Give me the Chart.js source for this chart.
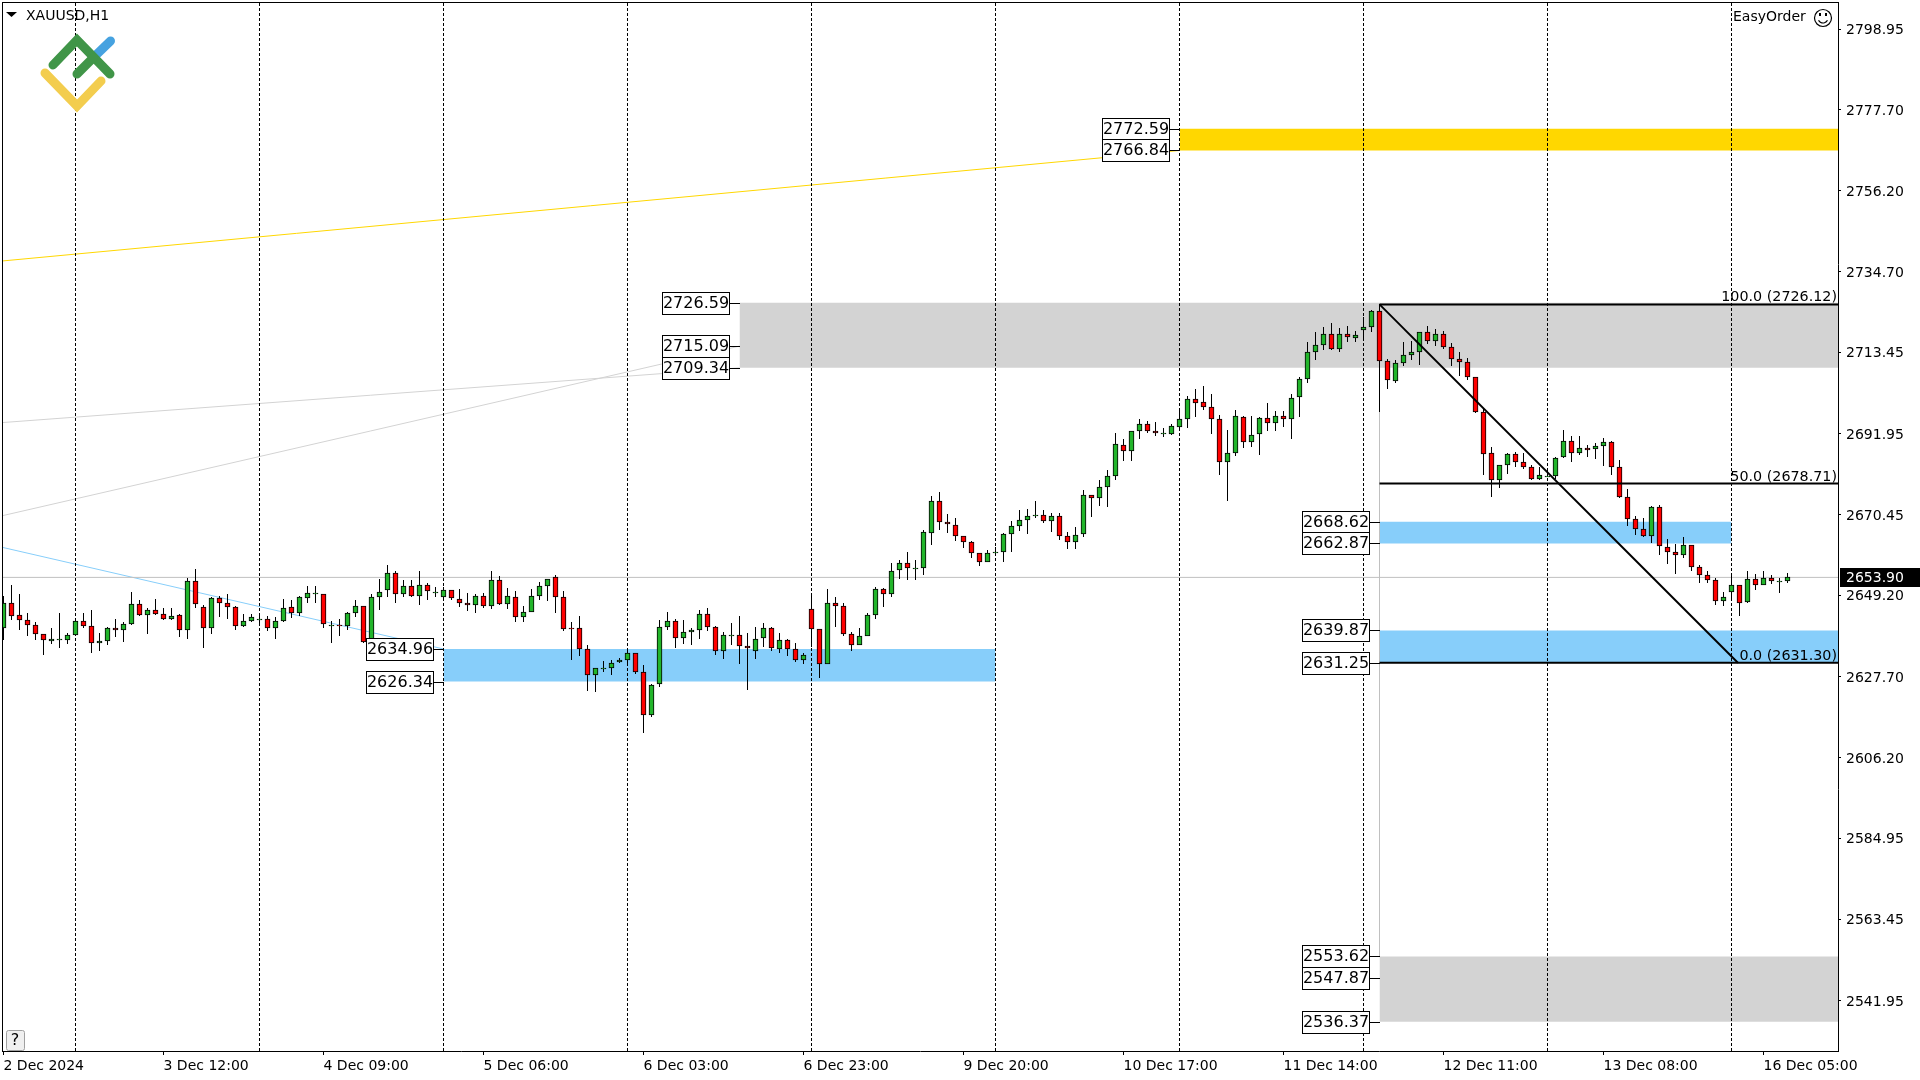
<!DOCTYPE html>
<html>
<head>
<meta charset="utf-8">
<title>XAUUSD,H1</title>
<script src="https://cdn.jsdelivr.net/npm/chart.js@4/dist/chart.umd.min.js"></script>
<style>
  html, body { margin: 0; padding: 0; background: #fff; }
  canvas { display: block; }
</style>
</head>
<body>
<canvas id="chart" width="1920" height="1080"></canvas>
<script>
// hourly candles
const opens = [2640.5,2647.1,2644.0,2642.6,2641.3,2638.9,2637.0,2637.6,2637.4,2638.6,2642.4,2641.1,2636.5,2637.0,2640.5,2640.0,2641.5,2646.9,2644.0,2645.3,
  2644.2,2642.9,2644.0,2640.0,2653.0,2646.1,2640.5,2648.5,2647.1,2646.1,2641.1,2642.4,2642.9,2642.9,2640.5,2642.4,2646.1,2644.5,2648.5,2649.7,
  2649.5,2641.3,2641.3,2641.1,2644.5,2646.4,2636.7,2648.7,2650.6,2655.1,2649.5,2651.6,2649.0,2651.9,2650.1,2648.6,2650.6,2648.2,2647.1,2646.5,
  2649.0,2646.4,2653.2,2646.8,2648.7,2643.4,2644.8,2649.0,2651.6,2654.0,2648.7,2640.5,2640.5,2635.0,2628.1,2630.0,2630.0,2631.5,2632.1,2633.9,
  2628.9,2617.5,2625.7,2640.8,2642.4,2637.9,2639.5,2640.0,2644.2,2640.8,2634.4,2638.7,2638.7,2635.8,2634.4,2637.9,2640.5,2635.0,2637.4,2635.0,
  2632.1,2645.6,2640.3,2631.0,2647.1,2646.4,2638.9,2636.0,2638.4,2644.0,2650.9,2649.5,2655.9,2657.7,2656.4,2656.4,2665.7,2674.1,2668.6,2667.8,
  2664.9,2663.3,2660.4,2658.0,2660.7,2660.6,2665.4,2667.5,2669.1,2670.3,2670.4,2668.8,2670.2,2664.9,2663.3,2665.4,2675.7,2674.9,2677.8,2680.7,
  2689.0,2687.4,2692.6,2694.5,2692.6,2692.0,2691.8,2693.7,2695.8,2701.1,2700.3,2699.0,2695.8,2684.4,2686.8,2696.4,2689.7,2691.8,2696.1,2694.8,
  2696.6,2695.8,2701.6,2706.4,2713.5,2715.4,2718.3,2714.3,2718.3,2717.2,2719.3,2720.2,2724.4,2711.2,2705.9,2710.6,2712.8,2713.6,2718.9,2716.5,
  2718.3,2714.9,2711.7,2710.9,2706.9,2697.7,2686.8,2679.7,2683.7,2686.6,2684.5,2683.1,2680.0,2680.7,2680.7,2685.8,2690.0,2686.8,2688.2,2687.9,
  2688.7,2689.8,2683.1,2675.2,2669.4,2666.7,2664.9,2672.6,2662.0,2660.6,2659.9,2662.5,2656.7,2654.6,2653.2,2647.7,2650.1,2651.9,2647.4,2653.5,
  2651.9,2653.8,2653.0,2653.0];
const highs = [2649.1,2652.0,2649.6,2644.5,2642.1,2638.9,2640.4,2644.5,2639.2,2642.4,2644.5,2645.4,2639.2,2640.8,2643.0,2642.2,2650.1,2648.0,2645.7,2648.3,
  2645.9,2645.9,2644.2,2653.8,2656.0,2646.6,2648.7,2649.0,2649.4,2646.3,2644.2,2644.3,2644.2,2643.7,2643.4,2648.3,2648.0,2649.1,2651.5,2651.7,
  2649.5,2642.3,2643.0,2644.8,2648.0,2646.4,2649.4,2653.5,2657.2,2655.6,2653.2,2653.2,2655.7,2652.3,2651.4,2651.3,2650.6,2650.9,2649.8,2649.5,
  2649.8,2655.7,2654.4,2651.1,2650.4,2646.4,2650.7,2652.8,2653.5,2654.6,2650.4,2642.2,2643.7,2636.0,2630.0,2631.9,2632.1,2632.6,2634.8,2633.9,
  2630.8,2625.7,2642.7,2644.8,2642.9,2642.5,2640.4,2645.4,2645.9,2641.1,2639.5,2641.9,2643.7,2639.3,2640.9,2641.9,2640.8,2639.3,2637.6,2636.6,
  2634.0,2649.0,2640.3,2650.9,2648.8,2647.0,2639.5,2640.5,2644.5,2651.4,2651.1,2657.6,2658.5,2660.6,2658.5,2666.5,2675.5,2676.5,2670.8,2669.7,
  2664.9,2663.6,2660.4,2661.2,2662.0,2665.7,2668.8,2671.8,2672.1,2674.2,2671.8,2671.0,2671.0,2665.9,2667.3,2677.1,2675.7,2679.7,2682.4,2692.1,
  2690.6,2692.6,2695.9,2695.4,2694.9,2693.3,2694.5,2698.5,2701.9,2703.8,2704.6,2702.3,2696.9,2693.0,2698.3,2696.6,2696.6,2696.4,2700.1,2698.0,
  2697.8,2702.4,2707.0,2716.2,2718.7,2720.2,2721.3,2719.9,2720.5,2719.1,2722.8,2724.7,2726.1,2711.7,2711.4,2716.3,2716.5,2718.9,2720.5,2719.6,
  2719.1,2715.9,2713.6,2712.0,2706.9,2698.7,2688.4,2683.7,2686.8,2687.1,2686.8,2683.7,2683.1,2682.3,2685.8,2692.9,2691.3,2691.3,2689.0,2689.5,
  2690.8,2690.1,2685.0,2677.3,2670.2,2669.6,2672.8,2673.1,2664.1,2662.8,2664.6,2662.5,2657.2,2655.6,2653.8,2650.1,2654.3,2651.9,2655.6,2654.8,
  2655.6,2654.6,2653.8,2655.1];
const lows = [2637.3,2642.6,2640.1,2638.5,2637.4,2633.5,2636.4,2635.3,2636.4,2638.5,2640.4,2634.0,2634.3,2636.1,2638.2,2636.9,2641.2,2643.8,2639.0,2644.0,
  2642.6,2642.7,2638.2,2637.7,2645.7,2635.1,2638.8,2643.5,2643.0,2640.0,2640.8,2642.1,2641.4,2639.6,2637.7,2642.0,2643.1,2643.8,2647.2,2647.2,
  2640.4,2636.6,2638.5,2640.0,2643.3,2636.5,2632.7,2645.2,2648.8,2647.0,2648.6,2648.8,2646.7,2648.0,2648.8,2648.0,2647.9,2646.2,2645.1,2644.6,
  2645.7,2645.5,2646.5,2645.5,2642.0,2642.0,2644.7,2648.0,2647.6,2644.4,2639.7,2632.0,2633.0,2623.8,2623.5,2628.8,2628.0,2631.2,2631.3,2628.3,
  2612.7,2616.9,2624.8,2640.1,2635.3,2636.4,2636.1,2637.7,2639.8,2633.5,2632.4,2635.9,2631.1,2624.0,2632.4,2635.5,2634.3,2634.0,2633.0,2631.4,
  2631.1,2635.6,2627.4,2631.0,2640.9,2638.4,2634.5,2635.9,2638.3,2643.0,2646.2,2648.8,2653.6,2653.3,2653.3,2654.6,2662.6,2666.5,2665.7,2663.6,
  2661.8,2658.9,2656.8,2657.9,2659.5,2657.9,2660.5,2666.1,2665.5,2669.5,2668.2,2665.8,2663.7,2661.3,2661.5,2664.5,2669.8,2672.7,2672.5,2679.6,
  2684.6,2684.6,2690.4,2692.0,2691.2,2691.0,2691.7,2692.6,2693.4,2696.4,2698.1,2691.9,2681.1,2674.2,2686.0,2688.2,2688.5,2686.4,2692.6,2692.7,
  2693.8,2690.6,2696.4,2705.4,2711.5,2714.0,2714.0,2713.5,2716.1,2716.1,2716.6,2718.9,2697.6,2703.7,2705.3,2709.7,2711.5,2710.2,2715.7,2715.1,
  2714.4,2709.7,2707.2,2706.1,2697.4,2681.1,2675.1,2677.5,2681.3,2683.1,2682.5,2679.7,2679.7,2680.5,2679.8,2685.5,2684.4,2686.3,2685.7,2685.1,
  2683.3,2681.1,2674.9,2667.6,2665.0,2664.6,2663.0,2659.8,2657.5,2654.7,2659.1,2655.6,2652.4,2652.4,2646.6,2646.3,2648.5,2643.6,2647.2,2650.6,
  2651.9,2652.2,2649.7,2652.4];
const closes = [2647.1,2643.6,2642.6,2641.2,2638.9,2637.4,2637.6,2637.6,2638.7,2642.4,2641.0,2636.6,2637.1,2640.5,2639.9,2641.6,2646.9,2644.0,2645.3,2644.2,
  2642.8,2643.7,2640.0,2653.0,2646.9,2640.5,2648.5,2647.1,2646.0,2641.1,2642.4,2643.4,2642.9,2640.5,2642.4,2645.8,2644.5,2648.7,2649.8,2649.7,
  2641.6,2641.3,2641.1,2644.5,2646.4,2636.7,2648.7,2650.1,2655.1,2649.5,2651.6,2649.0,2651.9,2650.3,2650.1,2650.6,2648.5,2647.1,2646.5,2649.0,
  2646.4,2653.2,2646.8,2649.0,2643.4,2644.8,2649.0,2651.6,2653.5,2648.7,2640.3,2640.3,2635.0,2628.1,2630.0,2630.0,2631.3,2632.1,2633.9,2628.9,
  2617.5,2625.4,2640.8,2642.4,2637.9,2639.5,2640.0,2644.2,2640.8,2634.4,2638.7,2638.7,2635.8,2635.2,2637.6,2640.5,2635.2,2637.4,2635.0,2632.1,
  2633.4,2640.3,2631.0,2647.1,2646.4,2638.9,2636.0,2638.4,2644.0,2650.9,2649.5,2655.6,2657.7,2656.4,2656.4,2665.9,2674.1,2668.6,2668.0,2664.9,
  2663.3,2660.4,2658.0,2660.4,2660.7,2665.4,2667.5,2669.1,2670.2,2670.3,2668.8,2670.2,2664.9,2663.3,2665.1,2675.7,2674.9,2677.8,2680.7,2689.2,
  2687.4,2692.6,2694.5,2692.6,2692.1,2692.0,2694.0,2695.8,2701.1,2700.1,2699.0,2695.8,2684.4,2686.8,2696.6,2689.7,2691.6,2696.1,2694.8,2696.6,
  2695.8,2701.4,2706.4,2713.6,2715.4,2718.3,2714.3,2718.3,2717.4,2718.0,2720.2,2724.4,2711.2,2706.2,2710.6,2712.8,2713.6,2718.9,2716.5,2718.3,
  2714.9,2711.7,2710.9,2706.9,2697.6,2686.6,2679.7,2683.7,2686.6,2684.5,2683.1,2680.0,2681.0,2680.7,2685.5,2690.0,2686.8,2688.2,2687.6,2688.7,
  2689.8,2683.1,2675.2,2669.4,2666.7,2664.9,2672.6,2662.2,2660.6,2659.9,2662.5,2656.7,2654.6,2653.2,2647.7,2648.7,2651.9,2647.2,2653.5,2651.9,
  2653.8,2653.0,2653.0,2653.9];

const xTickBars = [0,20,40,60,80,100,120,140,160,180,200,220];
const xTickLabels = ['2 Dec 2024','3 Dec 12:00','4 Dec 09:00','5 Dec 06:00','6 Dec 03:00','6 Dec 23:00','9 Dec 20:00','10 Dec 17:00','11 Dec 14:00','12 Dec 11:00','13 Dec 08:00','16 Dec 05:00'];
const yTicks = [2798.95,2777.70,2756.20,2734.70,2713.45,2691.95,2670.45,2649.20,2627.70,2606.20,2584.95,2563.45,2541.95];
const sessionBars = [9,32,55,78,101,124,147,170,193,216];
const lastPrice = 2653.90;

// zones on the chart
const zoneHigh = [2772.59,2726.59,2634.96,2668.62,2639.87,2553.62];
const zoneLow  = [2766.84,2709.34,2626.34,2662.87,2631.25,2536.37];
const zoneFrom = [147,92,55,172,172,172];
const zoneTo   = [null,null,124,216,null,null]; // null = runs to the right edge
const zoneKind = ['gold','gray','blue','blue','blue','gray'];

// price boxes left of the zones
const boxPrices = [2772.59,2766.84,2726.59,2715.09,2709.34,2634.96,2626.34,2668.62,2662.87,2639.87,2631.25,2553.62,2547.87,2536.37];
const boxBars   = [147,147,92,92,92,55,55,172,172,172,172,172,172,172];

// fibo
const fibLevels = [100.0,50.0,0.0];
const fibPrices = [2726.12,2678.71,2631.30];
const fibStartBar = 172;
const fibEndBar = 216.8;

// thin trend lines running into the zones
const trendStart = [2737.6,2694.85,2670.2,2661.87];
const trendEnd   = [2766.84,2709.34,2715.09,2634.96];
const trendEndBar = [147,92,92,55];
const trendKind  = ['gold','gray','gray','blue'];

const yMax = 2806.12, yMin = 2528.61;
const xMin = -0.1875, xMax = 229.3125;

const colors = { gold: '#FFD700', gray: '#D3D3D3', blue: '#87CEFA', bull: '#22B52B', bear: '#FF0000', bid: '#C0C0C0' };
const FONT = '"DejaVu Sans", sans-serif';

const datasets = [];

// candles: floating bars, wick below the body
datasets.push({
  type: 'bar', label: 'body', order: 3, grouped: false, barThickness: 5,
  data: opens.map((o, i) => ({ x: i, y: [o, closes[i]] })),
  backgroundColor: opens.map((o, i) => closes[i] >= o ? colors.bull : colors.bear),
  borderColor: '#000', borderWidth: 1, borderSkipped: false
});
datasets.push({
  type: 'bar', label: 'wick', order: 4, grouped: false, barThickness: 1,
  data: lows.map((l, i) => ({ x: i, y: [l, highs[i]] })),
  backgroundColor: '#000', borderWidth: 0, inflateAmount: 0
});

function line(label, order, pts, color, width, dash) {
  datasets.push({
    type: 'line', label, order, data: pts, borderColor: color, borderWidth: width,
    borderDash: dash || [], pointRadius: 0, fill: false, tension: 0
  });
}

// day separators
const sepPts = [];
sessionBars.forEach(b => sepPts.push({ x: b, y: yMin }, { x: b, y: yMax }, { x: b, y: null }));
line('sessions', 5, sepPts, '#000', 1, [3, 2]);

line('bid', 6, [{ x: xMin, y: lastPrice }, { x: xMax, y: lastPrice }], colors.bid, 1);

trendStart.forEach((p, i) => {
  line('trend' + i, 7, [{ x: xMin, y: p }, { x: trendEndBar[i], y: trendEnd[i] }], colors[trendKind[i]], 1);
});

zoneHigh.forEach((h, i) => {
  datasets.push({
    type: 'line', label: 'zone' + i, order: 8,
    data: [{ x: zoneFrom[i], y: h }, { x: zoneTo[i] === null ? xMax : zoneTo[i], y: h }],
    borderWidth: 0, pointRadius: 0,
    fill: { value: zoneLow[i] }, backgroundColor: colors[zoneKind[i]]
  });
});

// fibo on top of the candles
fibPrices.forEach((p, i) => {
  line('fib' + i, 1, [{ x: fibStartBar, y: p }, { x: xMax, y: p }], '#000', 2);
});
line('fibDiag', 1, [{ x: fibStartBar, y: fibPrices[0] }, { x: fibEndBar, y: fibPrices[2] }], '#000', 2);
line('fibStem', 6, [{ x: fibStartBar, y: fibPrices[0] }, { x: fibStartBar, y: zoneHigh[5] }], colors.bid, 1);

// snap candles to whole pixels, like the terminal does
const snapCandles = {
  id: 'snapCandles',
  afterDatasetsUpdate(chart) {
    [0, 1].forEach(idx => {
      chart.getDatasetMeta(idx).data.forEach(el => {
        const top = Math.round(Math.min(el.y, el.base));
        let bot = Math.round(Math.max(el.y, el.base));
        if (bot === top) bot = top + 1;
        el.y = top;
        el.base = bot;
      });
    });
  }
};

function drawLogo(ctx) {
  ctx.save();
  ctx.lineCap = 'round';
  ctx.lineJoin = 'miter';
  ctx.lineWidth = 9;
  ctx.strokeStyle = '#46A2E0';
  ctx.beginPath(); ctx.moveTo(96, 55); ctx.lineTo(110.5, 41); ctx.stroke();
  ctx.strokeStyle = '#F3CD4E';
  ctx.beginPath(); ctx.moveTo(45, 73); ctx.lineTo(77, 106); ctx.lineTo(101, 81); ctx.stroke();
  ctx.strokeStyle = '#409548';
  ctx.beginPath(); ctx.moveTo(53, 65); ctx.lineTo(77, 40); ctx.lineTo(110, 74); ctx.stroke();
  ctx.beginPath(); ctx.moveTo(77, 74); ctx.lineTo(93, 58); ctx.stroke();
  ctx.restore();
}

const overlays = {
  id: 'overlays',
  afterDatasetsDraw(chart) {
    const { ctx, scales: { x, y }, chartArea: a } = chart;
    drawLogo(ctx);

    // price boxes with their little connector
    ctx.save();
    ctx.font = '16px ' + FONT;
    ctx.textAlign = 'center';
    ctx.textBaseline = 'middle';
    boxPrices.forEach((p, i) => {
      const zx = Math.round(x.getPixelForValue(boxBars[i]));
      const py = Math.round(y.getPixelForValue(p));
      ctx.fillStyle = '#000';
      ctx.fillRect(zx - 10, py, 10, 1);
      ctx.fillStyle = '#fff';
      ctx.fillRect(zx - 78, py - 11, 68, 22);
      ctx.strokeStyle = '#000';
      ctx.lineWidth = 1;
      ctx.strokeRect(zx - 77.5, py - 10.5, 67, 22);
      ctx.fillStyle = '#000';
      ctx.fillText(p.toFixed(2), zx - 44, py + 1);
    });
    ctx.restore();

    // fibo captions
    ctx.save();
    ctx.font = '14.3px ' + FONT;
    ctx.textAlign = 'right';
    ctx.textBaseline = 'alphabetic';
    ctx.fillStyle = '#000';
    fibPrices.forEach((p, i) => {
      ctx.fillText(fibLevels[i].toFixed(1) + ' (' + p.toFixed(2) + ')', a.right - 1, y.getPixelForValue(p) - 3);
    });
    ctx.restore();

    // header
    ctx.save();
    ctx.fillStyle = '#000';
    ctx.beginPath(); ctx.moveTo(6, 12); ctx.lineTo(17, 12); ctx.lineTo(11.5, 17); ctx.closePath(); ctx.fill();
    ctx.font = '14px ' + FONT;
    ctx.textBaseline = 'middle';
    ctx.textAlign = 'left';
    ctx.fillText('XAUUSD,H1', 26, 16);
    ctx.fillText('EasyOrder', 1733, 17);
    ctx.strokeStyle = '#000';
    ctx.lineWidth = 1.2;
    ctx.beginPath(); ctx.arc(1823, 18, 8.5, 0, Math.PI * 2); ctx.stroke();
    ctx.beginPath(); ctx.arc(1823, 18, 5, 0.15 * Math.PI, 0.85 * Math.PI); ctx.stroke();
    ctx.fillRect(1819, 13, 2, 3);
    ctx.fillRect(1825, 13, 2, 3);

    // help button
    ctx.fillStyle = '#F0F0F0';
    ctx.strokeStyle = '#A0A0A0';
    ctx.lineWidth = 1;
    ctx.beginPath(); ctx.roundRect(6.5, 1030.5, 18, 20, 2); ctx.fill(); ctx.stroke();
    ctx.fillStyle = '#000';
    ctx.font = '16px ' + FONT;
    ctx.textAlign = 'center';
    ctx.fillText('?', 15, 1041);
    ctx.restore();

    // chart frame, left and top (axes draw the other two)
    ctx.save();
    ctx.fillStyle = '#000';
    ctx.fillRect(a.left, a.top, a.right - a.left + 1, 1);
    ctx.fillRect(a.left, a.top, 1, a.bottom - a.top);
    ctx.restore();
  },
  afterDraw(chart) {
    const { ctx, scales: { y }, chartArea: a } = chart;
    const py = Math.round(y.getPixelForValue(lastPrice));
    ctx.save();
    ctx.fillStyle = '#000';
    ctx.fillRect(a.right + 2, py - 9, 1920 - a.right - 2, 19);
    ctx.fillStyle = '#fff';
    ctx.font = '14px ' + FONT;
    ctx.textBaseline = 'middle';
    ctx.textAlign = 'left';
    ctx.fillText(lastPrice.toFixed(2), a.right + 8, py + 1);
    ctx.restore();
  }
};

new Chart(document.getElementById('chart'), {
  type: 'bar',
  data: { datasets },
  plugins: [snapCandles, overlays],
  options: {
    responsive: false,
    devicePixelRatio: 1,
    animation: false,
    layout: { padding: { left: 2, top: 2, right: 0, bottom: 0 } },
    plugins: { legend: { display: false }, tooltip: { enabled: false } },
    scales: {
      x: {
        type: 'linear', min: xMin, max: xMax, offset: false,
        afterBuildTicks(s) { s.ticks = xTickBars.map(v => ({ value: v })); },
        afterFit(s) { s.height = 29; s.paddingLeft = 0; s.paddingRight = 0; },
        grid: { drawOnChartArea: false, drawTicks: true, tickLength: 4, color: '#000', offset: false },
        border: { color: '#000' },
        ticks: {
          autoSkip: false, maxRotation: 0, align: 'start', padding: 3, color: '#000',
          font: { family: FONT, size: 14 },
          callback: v => xTickLabels[xTickBars.indexOf(v)]
        }
      },
      y: {
        position: 'right', min: yMin, max: yMax,
        afterBuildTicks(s) { s.ticks = yTicks.map(v => ({ value: v })); },
        afterFit(s) { s.width = 82; s.paddingTop = 0; s.paddingBottom = 0; },
        grid: { drawOnChartArea: false, drawTicks: true, tickLength: 3, color: '#000' },
        border: { color: '#000' },
        ticks: {
          autoSkip: false, padding: 5, labelOffset: 1.5, color: '#000',
          font: { family: FONT, size: 14 },
          callback: v => v.toFixed(2)
        }
      }
    }
  }
});
</script>
</body>
</html>
